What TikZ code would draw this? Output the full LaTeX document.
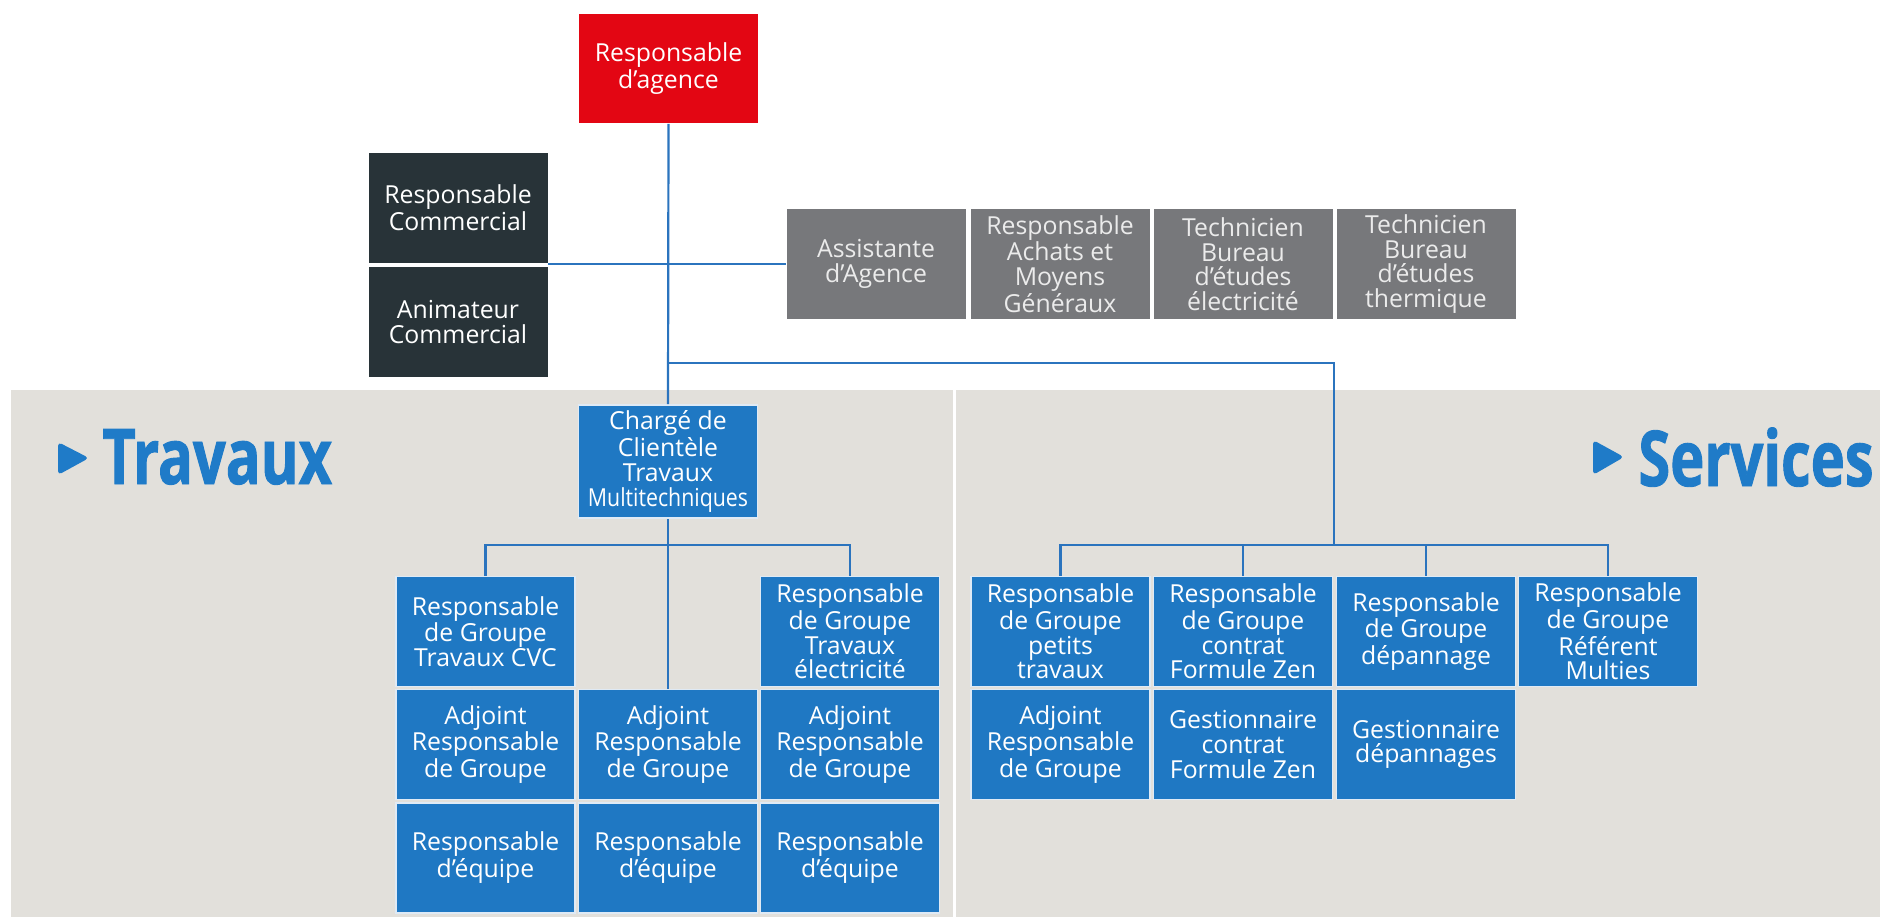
\documentclass[tikz,border=0pt]{standalone}
\usepackage{fontspec}
\setmainfont{Open Sans}
\newfontfamily\titlefont[FakeStretch=0.75,FakeBold=1.2]{Open Sans Bold}
\newfontfamily\narrowfont[FakeStretch=0.86]{Open Sans}
\definecolor{cred}{HTML}{E30613}
\definecolor{cdark}{HTML}{283338}
\definecolor{cgray}{HTML}{77787B}
\definecolor{cblue}{HTML}{1F78C3}
\definecolor{cline}{HTML}{2B74BE}
\definecolor{cbg}{HTML}{E2E0DB}
\definecolor{ctitle}{HTML}{1F7BC8}
\tikzset{
  box/.style={rectangle, minimum width=89.5pt, minimum height=55pt, inner sep=0pt,
    align=center, text=white, font=\fontsize{12.4}{12.3}\selectfont, draw=white!85!cline, line width=0.8pt},
  redbox/.style={box, fill=cred, draw=none},
  darkbox/.style={box, fill=cdark, draw=none},
  graybox/.style={box, fill=cgray, draw=none, text=white!92!black},
  bluebox/.style={box, fill=cblue},
  conn/.style={draw=cline, line width=1.1pt},
  titletext/.style={text=ctitle, font=\titlefont\fontsize{38.5}{40}\selectfont, inner sep=0pt, anchor=base west},
}
\begin{document}
\begin{tikzpicture}[x=0.5pt,y=-0.5pt]
\useasboundingbox (0,0) rectangle (1880,917);
\fill[white] (0,0) rectangle (1880,917);
% background areas
\fill[cbg] (11,390) rectangle (1880,917);
\draw[white, line width=1.5pt] (954,390) -- (954,917);
% titles
\fill[ctitle, rounded corners=2pt] (58,442) -- (89,458) -- (58,475) -- cycle;
\node[titletext] (ttrav) at (102,484) {Travaux};
\fill[ctitle, rounded corners=2pt] (1593,440) -- (1624,457) -- (1593,475) -- cycle;
\node[titletext] (tserv) at (1638,486) {Services};

% top
\node[redbox, minimum width=89.5pt, minimum height=54.5pt] (agence) at (668.5,68.5) {Responsable\\d’agence};
\node[darkbox] (rc) at (458,208) {Responsable\\Commercial};
\node[darkbox] (ac) at (458,322) {Animateur\\Commercial};
\node[graybox] (asst) at (876,264) {Assistante\\d’Agence};
\node[graybox] (achat) at (1060,264) {Responsable\\Achats et\\Moyens\\Généraux};
\node[graybox] (tbe) at (1243,264) {Technicien\\Bureau\\d’études\\électricité};
\node[graybox] (tbt) at (1426,264) {Technicien\\Bureau\\d’études\\thermique};

% travaux
\node[bluebox, minimum height=56.5pt] (charge) at (668,461.5) {Chargé de\\Clientèle\\Travaux\\{\narrowfont Multitechniques}};
\node[bluebox] (tg1) at (485.5,631.5) {Responsable\\de Groupe\\Travaux CVC};
\node[bluebox] (tg3) at (850,631.5) {Responsable\\de Groupe\\Travaux\\électricité};
\node[bluebox] (ta1) at (485.5,744.5) {Adjoint\\Responsable\\de Groupe};
\node[bluebox] (ta2) at (668,744.5) {Adjoint\\Responsable\\de Groupe};
\node[bluebox] (ta3) at (850,744.5) {Adjoint\\Responsable\\de Groupe};
\node[bluebox] (te1) at (485.5,858) {Responsable\\d’équipe};
\node[bluebox] (te2) at (668,858) {Responsable\\d’équipe};
\node[bluebox] (te3) at (850,858) {Responsable\\d’équipe};

% services
\node[bluebox] (sg1) at (1060.5,631.5) {Responsable\\de Groupe\\petits\\travaux};
\node[bluebox] (sg2) at (1243,631.5) {Responsable\\de Groupe\\contrat\\Formule Zen};
\node[bluebox] (sg3) at (1426,631.5) {Responsable\\de Groupe\\dépannage};
\node[bluebox] (sg4) at (1608,631.5) {Responsable\\de Groupe\\Référent\\Multies};
\node[bluebox] (sa1) at (1060.5,744.5) {Adjoint\\Responsable\\de Groupe};
\node[bluebox] (sa2) at (1243,744.5) {Gestionnaire\\contrat\\Formule Zen};
\node[bluebox] (sa3) at (1426,744.5) {Gestionnaire\\dépannages};

% connectors
\coordinate (j1) at (668,363);
\coordinate (sbus) at (1334,545);
\coordinate (tbus) at (668,545);
\draw[conn] (agence.south) -- (charge.north);
\draw[conn] (asst.west) -- (asst.west -| rc.east);
\draw[conn] (j1) -| (sbus);
\draw[conn] (charge.south) -- (ta2.north);
\draw[conn] (tg1.north) |- (tbus) -| (tg3.north);
\draw[conn] (sg1.north) |- (sbus) -| (sg4.north);
\draw[conn] (sg2.north) -- (sg2.north |- sbus);
\draw[conn] (sg3.north) -- (sg3.north |- sbus);
\end{tikzpicture}
\end{document}
